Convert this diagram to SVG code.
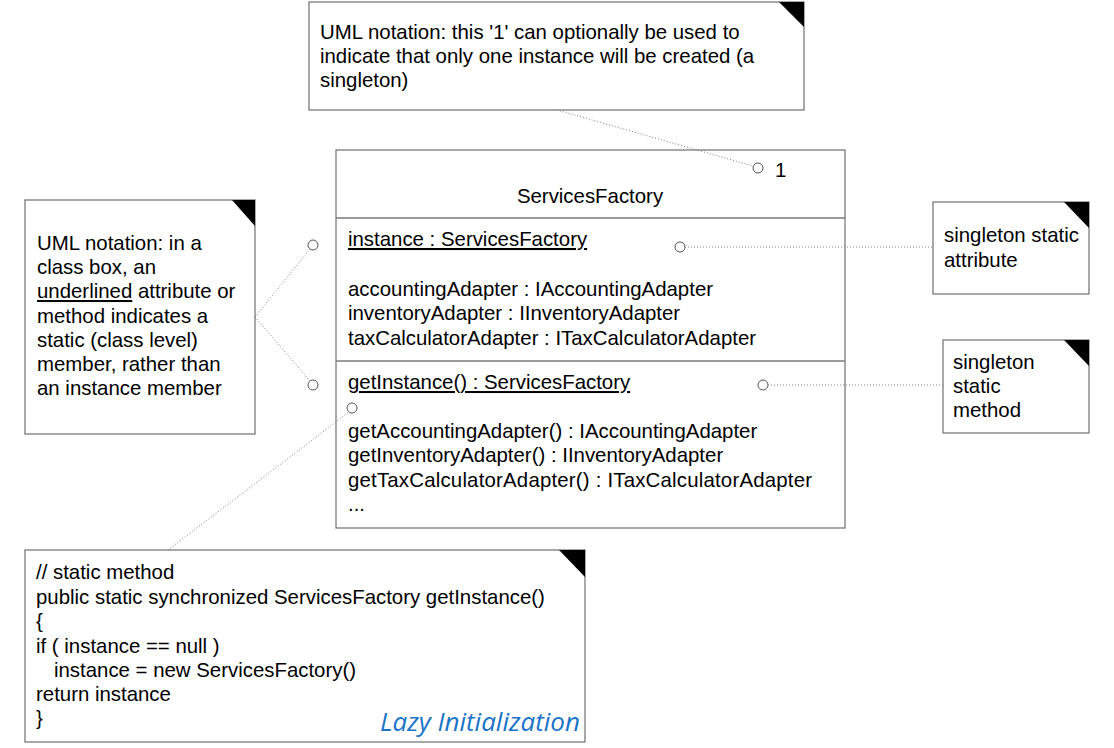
<svg xmlns="http://www.w3.org/2000/svg" width="1114" height="748" viewBox="0 0 1114 748">
<style>
text{font-family:"Liberation Sans",Arial,sans-serif;font-size:20.4px;fill:#000}
.box{fill:#fff;stroke:#7a7a7a;stroke-width:1.3}
.fold{fill:#000;stroke:none}
.dot{fill:none;stroke:#808080;stroke-width:1;stroke-dasharray:1 2}
.pin{fill:#fff;stroke:#555;stroke-width:1}
.u{text-decoration:underline}
.lazy{font-family:"Open Sans","Liberation Sans",sans-serif;font-style:italic;font-size:26px;fill:#1a74c8}
</style>
<rect width="1114" height="748" fill="#fff"/>
<g id="note-singleton">
<rect class="box" x="309" y="2" width="495" height="108"/>
<polygon class="fold" points="779,2 804,2 804,27"/>
<text x="320" y="39">UML notation: this '1' can optionally be used to</text>
<text x="320" y="63">indicate that only one instance will be created (a</text>
<text x="320" y="87">singleton)</text>
</g>
<g id="class-ServicesFactory">
<rect class="box" x="336" y="150" width="509" height="378"/>
<line class="box" x1="336" y1="218" x2="845" y2="218"/>
<line class="box" x1="336" y1="361" x2="845" y2="361"/>
<text x="590" y="203" text-anchor="middle">ServicesFactory</text>
<text x="348" y="246" class="u">instance : ServicesFactory</text>
<text x="348" y="296">accountingAdapter : IAccountingAdapter</text>
<text x="348" y="320">inventoryAdapter : IInventoryAdapter</text>
<text x="348" y="345">taxCalculatorAdapter : ITaxCalculatorAdapter</text>
<text x="348" y="389" class="u">getInstance() : ServicesFactory</text>
<text x="348" y="438">getAccountingAdapter() : IAccountingAdapter</text>
<text x="348" y="462">getInventoryAdapter() : IInventoryAdapter</text>
<text x="348" y="487" textLength="464" lengthAdjust="spacing">getTaxCalculatorAdapter() : ITaxCalculatorAdapter</text>
<text x="348" y="511">...</text>
<circle class="pin" cx="758" cy="168" r="5"/>
<text x="775" y="177">1</text>
<circle class="pin" cx="680" cy="247" r="5"/>
<circle class="pin" cx="763" cy="385" r="5"/>
<circle class="pin" cx="352" cy="408" r="5"/>
</g>
<g id="note-underline">
<rect class="box" x="25" y="200" width="230" height="234"/>
<polygon class="fold" points="232,200 255,200 255,226"/>
<text x="37" y="250">UML notation: in a</text>
<text x="37" y="274">class box, an</text>
<text x="37" y="298"><tspan class="u">underlined</tspan> attribute or</text>
<text x="37" y="323">method indicates a</text>
<text x="37" y="347">static (class level)</text>
<text x="37" y="371">member, rather than</text>
<text x="37" y="395">an instance member</text>
<circle class="pin" cx="313" cy="245" r="5"/>
<circle class="pin" cx="313" cy="385" r="5"/>
</g>
<g id="note-attribute">
<rect class="box" x="933" y="202" width="156" height="92"/>
<polygon class="fold" points="1064,202 1089,202 1089,228"/>
<text x="944" y="242">singleton static</text>
<text x="944" y="267">attribute</text>
</g>
<g id="note-method">
<rect class="box" x="943" y="340" width="146" height="93"/>
<polygon class="fold" points="1064,340 1089,340 1089,366"/>
<text x="953" y="369">singleton</text>
<text x="953" y="393">static</text>
<text x="953" y="417">method</text>
</g>
<g id="note-code">
<rect class="box" x="25" y="550" width="560" height="192"/>
<polygon class="fold" points="559,550 585,550 585,577"/>
<text x="36" y="579">// static method</text>
<text x="36" y="604">public static synchronized ServicesFactory getInstance()</text>
<text x="36" y="628">{</text>
<text x="36" y="653">if ( instance == null )</text>
<text x="54" y="677">instance = new ServicesFactory()</text>
<text x="36" y="701">return instance</text>
<text x="36" y="725">}</text>
<text x="580" y="731" text-anchor="end" class="lazy">Lazy Initialization</text>
</g>
<g id="connectors">
<line class="dot" x1="557" y1="110" x2="753" y2="166"/>
<line class="dot" x1="255" y1="317" x2="310" y2="249"/>
<line class="dot" x1="255" y1="317" x2="310" y2="381"/>
<line class="dot" x1="685" y1="247" x2="933" y2="247"/>
<line class="dot" x1="768" y1="385" x2="943" y2="385"/>
<line class="dot" x1="168" y1="550" x2="349" y2="412"/>
</g>
</svg>
